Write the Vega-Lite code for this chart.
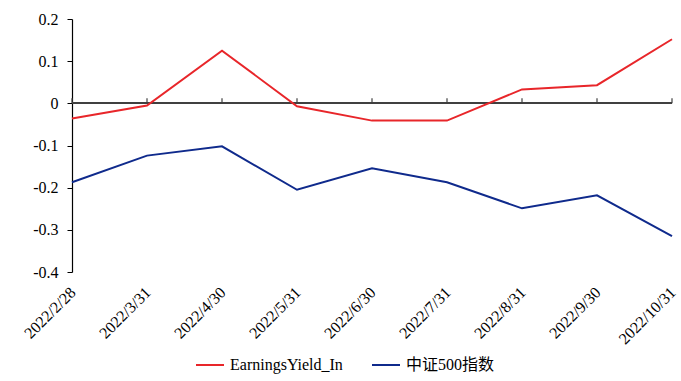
{
  "$schema": "https://vega.github.io/schema/vega-lite/v6.json",
  "width": 600,
  "height": 253,
  "autosize": "none",
  "padding": {"left": 72, "top": 19, "right": 9, "bottom": 109},
  "background": "white",
  "config": {
    "view": {"stroke": null},
    "font": "'Times New Roman', 'Liberation Serif', serif",
    "axis": {"labelFont": "'Times New Roman', 'Liberation Serif', serif", "labelColor": "#000", "labelFontSize": 16},
    "legend": {"labelFont": "'Times New Roman', 'Liberation Serif', 'Noto Sans CJK SC', serif"}
  },
  "data": {
    "values": [
      {"date": "2022/2/28", "series": "EarningsYield_In", "value": -0.036},
      {"date": "2022/3/31", "series": "EarningsYield_In", "value": -0.005},
      {"date": "2022/4/30", "series": "EarningsYield_In", "value": 0.125},
      {"date": "2022/5/31", "series": "EarningsYield_In", "value": -0.007},
      {"date": "2022/6/30", "series": "EarningsYield_In", "value": -0.041},
      {"date": "2022/7/31", "series": "EarningsYield_In", "value": -0.041},
      {"date": "2022/8/31", "series": "EarningsYield_In", "value": 0.033},
      {"date": "2022/9/30", "series": "EarningsYield_In", "value": 0.043},
      {"date": "2022/10/31", "series": "EarningsYield_In", "value": 0.152},
      {"date": "2022/2/28", "series": "中证500指数", "value": -0.187},
      {"date": "2022/3/31", "series": "中证500指数", "value": -0.124},
      {"date": "2022/4/30", "series": "中证500指数", "value": -0.102},
      {"date": "2022/5/31", "series": "中证500指数", "value": -0.205},
      {"date": "2022/6/30", "series": "中证500指数", "value": -0.154},
      {"date": "2022/7/31", "series": "中证500指数", "value": -0.187},
      {"date": "2022/8/31", "series": "中证500指数", "value": -0.249},
      {"date": "2022/9/30", "series": "中证500指数", "value": -0.218},
      {"date": "2022/10/31", "series": "中证500指数", "value": -0.315}
    ]
  },
  "encoding": {
    "x": {
      "field": "date", "type": "ordinal", "sort": null,
      "scale": {"type": "point", "padding": 0},
      "axis": {"title": null, "domain": false, "ticks": false, "labelAngle": -45, "labelPadding": 12, "labelFontSize": 16, "labelOffset": -5}
    }
  },
  "layer": [
    {
      "mark": {"type": "rule", "color": "#404040", "strokeWidth": 1.5},
      "encoding": {"x": null, "y": {"datum": 0}}
    },
    {
      "transform": [{"filter": "datum.series === 'EarningsYield_In'"}],
      "mark": {"type": "rule", "color": "#404040", "strokeWidth": 1.2},
      "encoding": {"y": {"datum": 0}, "y2": {"datum": 0.012}}
    },
    {
      "mark": {"type": "line", "strokeWidth": 2},
      "encoding": {
        "y": {
          "field": "value", "type": "quantitative",
          "scale": {"domain": [-0.4, 0.2], "nice": false, "zero": false},
          "axis": {"title": null, "values": [-0.4, -0.3, -0.2, -0.1, 0, 0.1, 0.2], "labelExpr": "'' + datum.value", "grid": false, "domainColor": "#000", "domainWidth": 1.2, "tickColor": "#000", "tickSize": 5, "labelPadding": 9, "labelFontSize": 16}
        },
        "color": {
          "field": "series", "type": "nominal",
          "scale": {"domain": ["EarningsYield_In", "中证500指数"], "range": ["#e8262a", "#0f2a8c"]},
          "legend": {
            "title": null, "orient": "none", "legendX": 123, "legendY": 331, "direction": "horizontal",
            "symbolType": "stroke", "symbolSize": 784, "symbolStrokeWidth": 2,
            "labelFontSize": 16, "labelColor": "#000",
            "labelOffset": 5, "columnPadding": 25
          }
        }
      }
    }
  ]
}
